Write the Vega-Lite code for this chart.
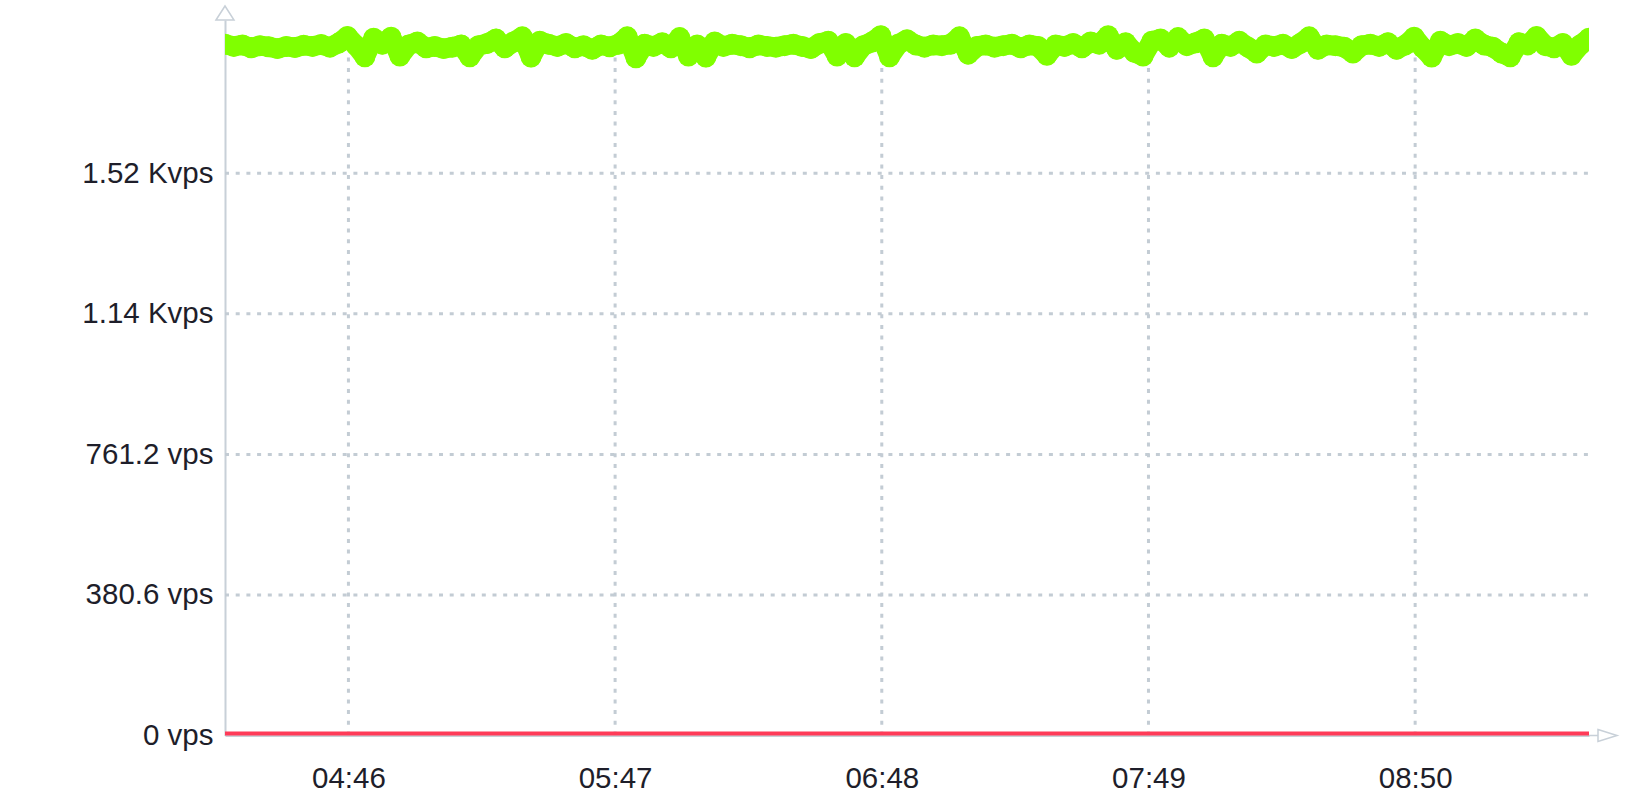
{
  "$schema": "https://vega.github.io/schema/vega-lite/v6.json",
  "width": 1364,
  "height": 715.5,
  "autosize": {"type": "none"},
  "padding": {"left": 225, "top": 20, "right": 50, "bottom": 57.5},
  "background": "white",
  "config": {"view": {"stroke": null}, "font": "Liberation Sans"},
  "datasets": {
    "series": [
      {"t":"04:17:46","v":1872,"r":0},{"t":"04:19:46","v":1866,"r":0},{"t":"04:21:46","v":1870,"r":0},{"t":"04:23:46","v":1862,"r":0},{"t":"04:25:46","v":1868,"r":0},{"t":"04:27:46","v":1865,"r":0},{"t":"04:29:46","v":1860,"r":0},{"t":"04:31:46","v":1866,"r":0},{"t":"04:33:46","v":1863,"r":0},{"t":"04:35:46","v":1869,"r":0},
      {"t":"04:37:46","v":1866,"r":0},{"t":"04:39:46","v":1871,"r":0},{"t":"04:41:46","v":1864,"r":0},{"t":"04:43:46","v":1875,"r":0},{"t":"04:45:46","v":1893,"r":0},{"t":"04:47:46","v":1868,"r":0},{"t":"04:49:46","v":1838,"r":0},{"t":"04:51:46","v":1888,"r":0},{"t":"04:53:46","v":1872,"r":0},{"t":"04:55:46","v":1891,"r":0},
      {"t":"04:57:46","v":1840,"r":0},{"t":"04:59:46","v":1870,"r":0},
      {"t":"05:01:46","v":1878,"r":0},{"t":"05:03:46","v":1862,"r":0},{"t":"05:05:46","v":1866,"r":0},{"t":"05:07:46","v":1860,"r":0},{"t":"05:09:46","v":1864,"r":0},{"t":"05:11:46","v":1870,"r":0},{"t":"05:13:46","v":1838,"r":0},{"t":"05:15:46","v":1868,"r":0},
      {"t":"05:17:46","v":1874,"r":0},{"t":"05:19:46","v":1886,"r":0},{"t":"05:21:46","v":1862,"r":0},{"t":"05:23:46","v":1878,"r":0},{"t":"05:25:46","v":1892,"r":0},{"t":"05:27:46","v":1837,"r":0},{"t":"05:29:46","v":1880,"r":0},{"t":"05:31:46","v":1872,"r":0},{"t":"05:33:46","v":1866,"r":0},{"t":"05:35:46","v":1874,"r":0},
      {"t":"05:37:46","v":1862,"r":0},{"t":"05:39:46","v":1868,"r":0},{"t":"05:41:46","v":1858,"r":0},{"t":"05:43:46","v":1870,"r":0},{"t":"05:45:46","v":1865,"r":0},{"t":"05:47:46","v":1872,"r":0},{"t":"05:49:46","v":1892,"r":0},{"t":"05:51:46","v":1835,"r":0},{"t":"05:53:46","v":1872,"r":0},{"t":"05:55:46","v":1866,"r":0},
      {"t":"05:57:46","v":1876,"r":0},{"t":"05:59:46","v":1862,"r":0},
      {"t":"06:01:46","v":1890,"r":0},{"t":"06:03:46","v":1840,"r":0},{"t":"06:05:46","v":1870,"r":0},{"t":"06:07:46","v":1837,"r":0},{"t":"06:09:46","v":1878,"r":0},{"t":"06:11:46","v":1866,"r":0},{"t":"06:13:46","v":1872,"r":0},{"t":"06:15:46","v":1868,"r":0},
      {"t":"06:17:46","v":1862,"r":0},{"t":"06:19:46","v":1870,"r":0},{"t":"06:21:46","v":1866,"r":0},{"t":"06:23:46","v":1864,"r":0},{"t":"06:25:46","v":1868,"r":0},{"t":"06:27:46","v":1872,"r":0},{"t":"06:29:46","v":1866,"r":0},{"t":"06:31:46","v":1860,"r":0},{"t":"06:33:46","v":1874,"r":0},{"t":"06:35:46","v":1880,"r":0},
      {"t":"06:37:46","v":1840,"r":0},{"t":"06:39:46","v":1874,"r":0},{"t":"06:41:46","v":1838,"r":0},{"t":"06:43:46","v":1868,"r":0},{"t":"06:45:46","v":1878,"r":0},{"t":"06:47:46","v":1895,"r":0},{"t":"06:49:46","v":1838,"r":0},{"t":"06:51:46","v":1872,"r":0},{"t":"06:53:46","v":1884,"r":0},{"t":"06:55:46","v":1870,"r":0},
      {"t":"06:57:46","v":1864,"r":0},{"t":"06:59:46","v":1870,"r":0},
      {"t":"07:01:46","v":1868,"r":0},{"t":"07:03:46","v":1872,"r":0},{"t":"07:05:46","v":1892,"r":0},{"t":"07:07:46","v":1845,"r":0},{"t":"07:09:46","v":1866,"r":0},{"t":"07:11:46","v":1870,"r":0},{"t":"07:13:46","v":1864,"r":0},{"t":"07:15:46","v":1868,"r":0},
      {"t":"07:17:46","v":1872,"r":0},{"t":"07:19:46","v":1862,"r":0},{"t":"07:21:46","v":1870,"r":0},{"t":"07:23:46","v":1866,"r":0},{"t":"07:25:46","v":1842,"r":0},{"t":"07:27:46","v":1870,"r":0},{"t":"07:29:46","v":1866,"r":0},{"t":"07:31:46","v":1874,"r":0},{"t":"07:33:46","v":1862,"r":0},{"t":"07:35:46","v":1878,"r":0},
      {"t":"07:37:46","v":1872,"r":0},{"t":"07:39:46","v":1895,"r":0},{"t":"07:41:46","v":1858,"r":0},{"t":"07:43:46","v":1876,"r":0},{"t":"07:45:46","v":1850,"r":0},{"t":"07:47:46","v":1840,"r":0},{"t":"07:49:46","v":1880,"r":0},{"t":"07:51:46","v":1886,"r":0},{"t":"07:53:46","v":1864,"r":0},{"t":"07:55:46","v":1890,"r":0},
      {"t":"07:57:46","v":1868,"r":0},{"t":"07:59:46","v":1876,"r":0},
      {"t":"08:01:46","v":1886,"r":0},{"t":"08:03:46","v":1838,"r":0},{"t":"08:05:46","v":1872,"r":0},{"t":"08:07:46","v":1866,"r":0},{"t":"08:09:46","v":1880,"r":0},{"t":"08:11:46","v":1864,"r":0},{"t":"08:13:46","v":1848,"r":0},{"t":"08:15:46","v":1870,"r":0},
      {"t":"08:17:46","v":1866,"r":0},{"t":"08:19:46","v":1872,"r":0},{"t":"08:21:46","v":1860,"r":0},{"t":"08:23:46","v":1874,"r":0},{"t":"08:25:46","v":1892,"r":0},{"t":"08:27:46","v":1858,"r":0},{"t":"08:29:46","v":1870,"r":0},{"t":"08:31:46","v":1868,"r":0},{"t":"08:33:46","v":1864,"r":0},{"t":"08:35:46","v":1848,"r":0},
      {"t":"08:37:46","v":1868,"r":0},{"t":"08:39:46","v":1872,"r":0},{"t":"08:41:46","v":1866,"r":0},{"t":"08:43:46","v":1876,"r":0},{"t":"08:45:46","v":1858,"r":0},{"t":"08:47:46","v":1870,"r":0},{"t":"08:49:46","v":1891,"r":0},{"t":"08:51:46","v":1862,"r":0},{"t":"08:53:46","v":1837,"r":0},{"t":"08:55:46","v":1880,"r":0},
      {"t":"08:57:46","v":1868,"r":0},{"t":"08:59:46","v":1874,"r":0},
      {"t":"09:01:46","v":1866,"r":0},{"t":"09:03:46","v":1886,"r":0},{"t":"09:05:46","v":1870,"r":0},{"t":"09:07:46","v":1864,"r":0},{"t":"09:09:46","v":1848,"r":0},{"t":"09:11:46","v":1838,"r":0},{"t":"09:13:46","v":1876,"r":0},{"t":"09:15:46","v":1870,"r":0},
      {"t":"09:17:46","v":1893,"r":0},{"t":"09:19:46","v":1868,"r":0},{"t":"09:21:46","v":1862,"r":0},{"t":"09:23:46","v":1874,"r":0},{"t":"09:25:46","v":1842,"r":0},{"t":"09:27:46","v":1870,"r":0},{"t":"09:29:46","v":1888,"r":0}
    ],
    "gridX": [{"t":"04:46:00"},{"t":"05:47:00"},{"t":"06:48:00"},{"t":"07:49:00"},{"t":"08:50:00"}],
    "gridY": [{"v":380.6},{"v":761.2},{"v":1141.8},{"v":1522.4}]
  },
  "layer": [
    {
      "data": {"name": "gridY"},
      "mark": {"type": "rule", "stroke": "#c3ccd4", "strokeWidth": 3, "strokeDash": [4, 6.7]},
      "encoding": {
        "x": {"datum": {"year":1900,"month":1,"date":1,"hours":4,"minutes":17,"seconds":46}, "type": "temporal", "title": null},
        "x2": {"datum": {"year":1900,"month":1,"date":1,"hours":9,"minutes":29,"seconds":46}},
        "y": {"field": "v", "type": "quantitative", "title": null}
      }
    },
    {
      "data": {"name": "gridX", "format": {"parse": {"t": "date:'%H:%M:%S'"}}},
      "mark": {"type": "rule", "stroke": "#c3ccd4", "strokeWidth": 3, "strokeDash": [4, 6.7]},
      "encoding": {
        "x": {"field": "t", "type": "temporal", "title": null},
        "y": {"datum": 0, "type": "quantitative", "title": null},
        "y2": {"datum": 1868}
      }
    },
    {
      "data": {"name": "series", "format": {"parse": {"t": "date:'%H:%M:%S'"}}},
      "encoding": {
        "x": {
          "field": "t", "type": "temporal", "title": null,
          "scale": {"domain": [
            {"year":1900,"month":1,"date":1,"hours":4,"minutes":17,"seconds":46},
            {"year":1900,"month":1,"date":1,"hours":9,"minutes":29,"seconds":46}
          ]},
          "axis": {
            "values": [
              {"year":1900,"month":1,"date":1,"hours":4,"minutes":46},
              {"year":1900,"month":1,"date":1,"hours":5,"minutes":47},
              {"year":1900,"month":1,"date":1,"hours":6,"minutes":48},
              {"year":1900,"month":1,"date":1,"hours":7,"minutes":49},
              {"year":1900,"month":1,"date":1,"hours":8,"minutes":50}
            ],
            "format": "%H:%M",
            "grid": false, "ticks": false, "tickSize": 0,
            "domainColor": "#c8d0d8", "domainWidth": 2,
            "labelFont": "Liberation Sans", "labelFontSize": 29.5, "labelColor": "#1e1e2a",
            "labelPadding": 29, "labelFlush": false, "labelOverlap": false
          }
        }
      },
      "layer": [
        {
          "mark": {"type": "line", "stroke": "#ff3b58", "strokeWidth": 8, "clip": true},
          "encoding": {
            "y": {"field": "r", "type": "quantitative", "title": null}
          }
        },
        {
          "mark": {"type": "line", "stroke": "#80ff00", "strokeWidth": 20, "strokeJoin": "round", "strokeCap": "round", "clip": true},
          "encoding": {
            "y": {
              "field": "v", "type": "quantitative", "title": null,
              "scale": {"domain": [0, 1937.5], "nice": false, "zero": true},
              "axis": {
                "values": [0, 380.6, 761.2, 1141.8, 1522.4],
                "labelExpr": "datum.value >= 1000 ? format(datum.value/1000, '.2f') + ' Kvps' : (datum.value == 0 ? '0' : format(datum.value, '.1f')) + ' vps'",
                "grid": false, "ticks": false, "tickSize": 0,
                "domainColor": "#c8d0d8", "domainWidth": 2,
                "labelFont": "Liberation Sans", "labelFontSize": 29.5, "labelColor": "#1e1e2a",
                "labelPadding": 12, "labelOverlap": false
              }
            }
          }
        },
        {
          "mark": {"type": "circle", "color": "#80ff00", "opacity": 1, "size": 440, "clip": true},
          "encoding": {
            "y": {"field": "v", "type": "quantitative", "title": null}
          }
        }
      ]
    },
    {
      "data": {"values": [{}]},
      "mark": {"type": "point", "shape": "M0,0L0.9,0M0.9,-0.6L2.8,0L0.9,0.6Z", "size": 400, "filled": false, "fill": "white", "stroke": "#c8d0d8", "strokeWidth": 1.5, "opacity": 1},
      "encoding": {
        "x": {"datum": {"year":1900,"month":1,"date":1,"hours":9,"minutes":29,"seconds":46}, "type": "temporal"},
        "y": {"datum": 0, "type": "quantitative"}
      }
    },
    {
      "data": {"values": [{}]},
      "mark": {"type": "point", "shape": "M-0.9,0L0,-1.4L0.9,0Z", "size": 400, "filled": false, "fill": "white", "stroke": "#c8d0d8", "strokeWidth": 1.5, "opacity": 1},
      "encoding": {
        "x": {"datum": {"year":1900,"month":1,"date":1,"hours":4,"minutes":17,"seconds":46}, "type": "temporal"},
        "y": {"datum": 1937.5, "type": "quantitative"}
      }
    }
  ]
}
